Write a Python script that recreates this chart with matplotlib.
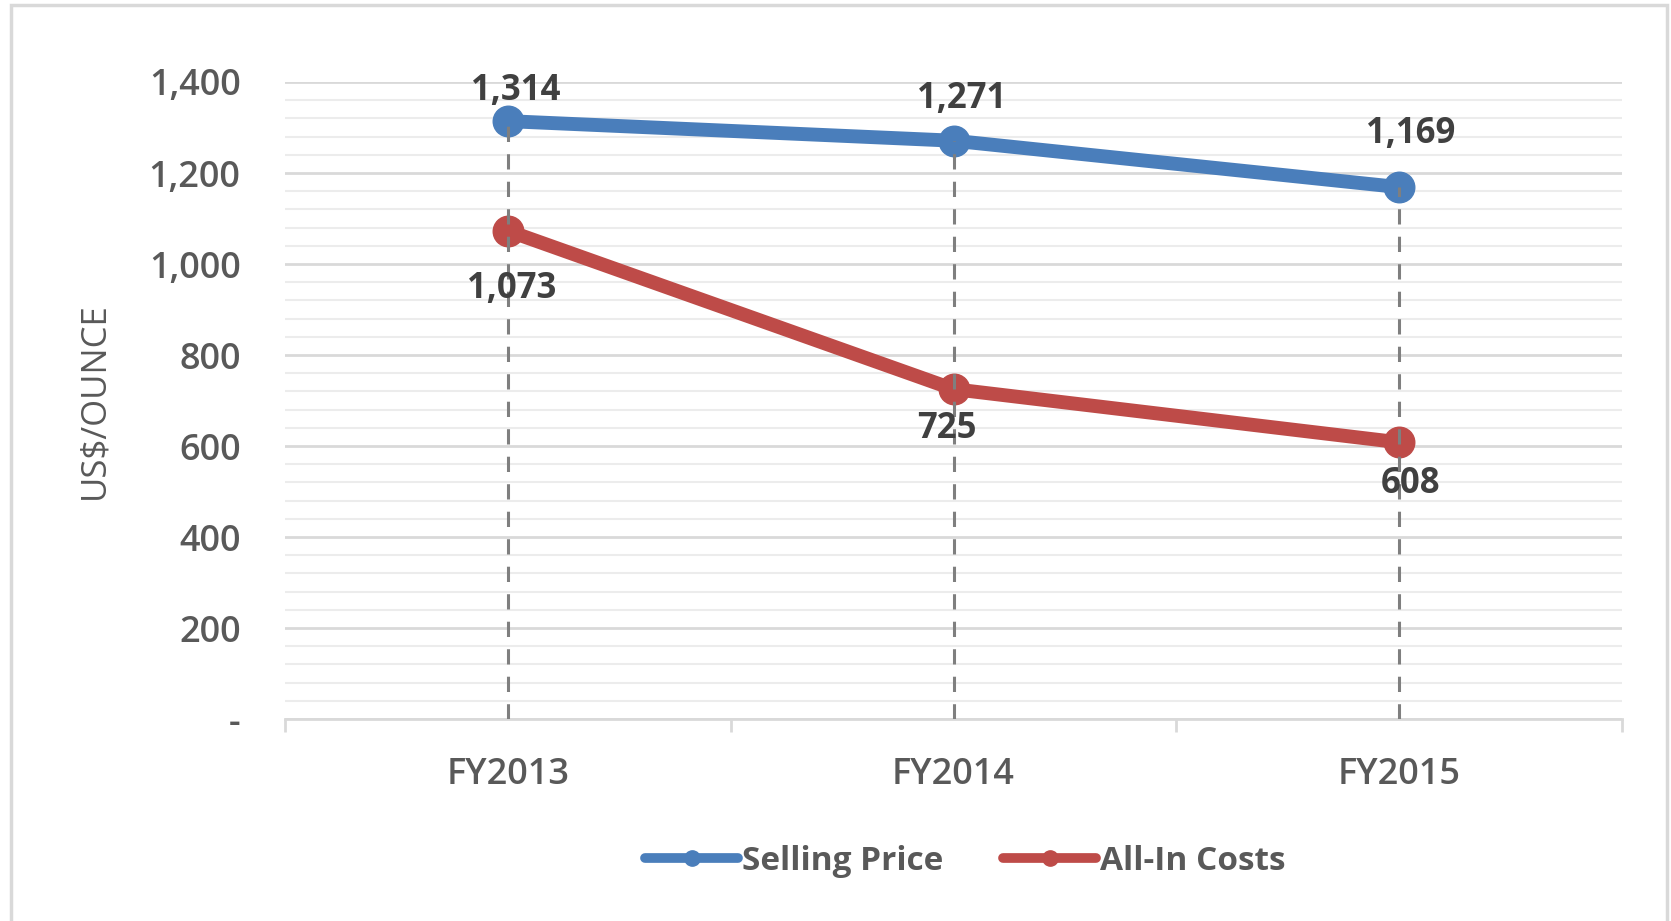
import matplotlib.pyplot as plt
from matplotlib.ticker import MultipleLocator, FuncFormatter, FixedLocator, NullFormatter
from matplotlib.lines import Line2D
from matplotlib.patches import Rectangle

# chart data
years = ["FY2013", "FY2014", "FY2015"]
selling_price = [1314, 1271, 1169]
all_in_costs = [1073, 725, 608]

# label offsets in points (dx, dy)
sell_offsets = [(6, 22), (6, 30), (8, 38)]
cost_offsets = [(3, -42), (-5, -29), (8, -30)]

blue = "#4a7ebb"
red = "#be4b48"
txt = "#404040"

plt.rcParams['font.family'] = ['Open Sans', 'DejaVu Sans']

fig = plt.figure(figsize=(16.71, 9.21), dpi=100)
fig.patches.append(Rectangle((11 / 1671, -0.05), (1667 - 11) / 1671, 1.05 - 5 / 921,
                             transform=fig.transFigure, fill=False,
                             edgecolor="#d9d9d9", linewidth=2.5))

ax = fig.add_axes([285 / 1671, 1 - 719 / 921, (1622 - 285) / 1671, (719 - 82) / 921])

x = list(range(len(years)))

ax.plot(x, selling_price, color=blue, lw=10, marker="o", ms=22,
        solid_capstyle="round", zorder=3)
ax.plot(x, all_in_costs, color=red, lw=10, marker="o", ms=22,
        solid_capstyle="round", zorder=3)

# drop lines
tops = [max(a, b) for a, b in zip(selling_price, all_in_costs)]
ax.vlines(x, 0, tops, colors="#7f7f7f", linewidth=2.2,
          linestyles=(0, (5, 4)), zorder=4)

for xi, v, off in zip(x, selling_price, sell_offsets):
    ax.annotate(f"{v:,}", (xi, v), xytext=off, textcoords="offset points",
                ha="center", va="center", fontsize=25, fontweight="bold",
                color=txt, zorder=5)
for xi, v, off in zip(x, all_in_costs, cost_offsets):
    ax.annotate(f"{v:,}", (xi, v), xytext=off, textcoords="offset points",
                ha="center", va="center", fontsize=25, fontweight="bold",
                color=txt, zorder=5)

ax.set_xlim(-0.5, 2.5)
ax.set_ylim(0, 1400)

ax.yaxis.set_major_locator(MultipleLocator(200))
ax.yaxis.set_minor_locator(MultipleLocator(40))
ax.yaxis.set_major_formatter(FuncFormatter(lambda v, p: "-" if v == 0 else f"{int(v):,}"))
ax.grid(axis="y", which="major", color="#d9d9d9", linewidth=2)
ax.grid(axis="y", which="minor", color="#ececec", linewidth=1.5)
ax.set_axisbelow(True)
ax.tick_params(axis="y", which="both", length=0, pad=32, labelsize=26,
               labelcolor="#595959")

# category labels between boundary ticks
ax.xaxis.set_major_locator(FixedLocator([-0.5, 0.5, 1.5, 2.5]))
ax.xaxis.set_major_formatter(NullFormatter())
ax.xaxis.set_minor_locator(FixedLocator(x))
ax.set_xticklabels(years, minor=True)
ax.tick_params(axis="x", which="major", length=9, width=2, color="#d9d9d9")
ax.tick_params(axis="x", which="minor", length=0, pad=27, labelsize=26,
               labelcolor="#595959")
for t in ax.get_yticklabels() + ax.get_xticklabels(minor=True):
    t.set_fontweight(600)

for s in ["top", "right", "left"]:
    ax.spines[s].set_visible(False)
ax.spines["bottom"].set_color("#d9d9d9")
ax.spines["bottom"].set_linewidth(2)

ax.set_ylabel("US$/OUNCE", fontsize=25, color="#595959", fontweight=500)
ax.yaxis.set_label_coords(-0.130, 0.5)

handles = [
    Line2D([], [], color=blue, lw=7, marker="o", ms=11, solid_capstyle="round"),
    Line2D([], [], color=red, lw=7, marker="o", ms=11, solid_capstyle="round"),
]
leg = fig.legend(handles, ["Selling Price", "All-In Costs"], loc="center",
                 bbox_to_anchor=(965 / 1671, 1 - 861 / 921), ncol=2, frameon=False,
                 fontsize=24, handlelength=2.8, handletextpad=0.1,
                 columnspacing=1.8)
for t in leg.get_texts():
    t.set_color("#595959")
    t.set_fontweight("bold")

fig.savefig("out.png", dpi=100, facecolor="white")
